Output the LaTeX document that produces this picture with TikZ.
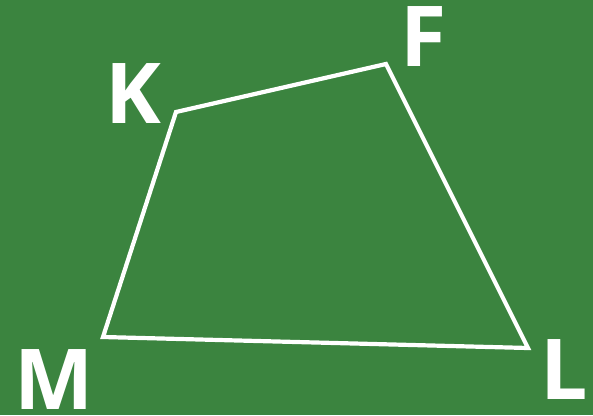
\documentclass[tikz,border=0pt]{standalone}
\usepackage{fontspec}
\setmainfont{Open Sans}
\usepackage{tikz}

\definecolor{board}{RGB}{59,132,63}

\begin{document}
\begin{tikzpicture}[
   x=1pt,y=-1pt,
   letter/.style={text=white,inner sep=0pt,anchor=base,text depth=0pt,
      font=\fontsize{84}{84}\selectfont\bfseries},
   side/.style={draw=white,line width=4.2pt}
]
   \fill[board] (0,0) rectangle (593,415);
   \useasboundingbox (0,0) rectangle (593,415);

   \coordinate (K) at (176,112);
   \coordinate (F) at (386,64);
   \coordinate (L) at (528,348);
   \coordinate (M) at (103,337);

   \node[letter] (lk) at (133,123) {K};
   \node[letter] (lf) at (424,66) {F};
   \node[letter] (ll) at (564,399) {L};
   \node[letter] (lm) at (54,409) {M};

   \draw[side] (K) -- (F) -- (L) -- (M) -- cycle;
\end{tikzpicture}
\end{document}
